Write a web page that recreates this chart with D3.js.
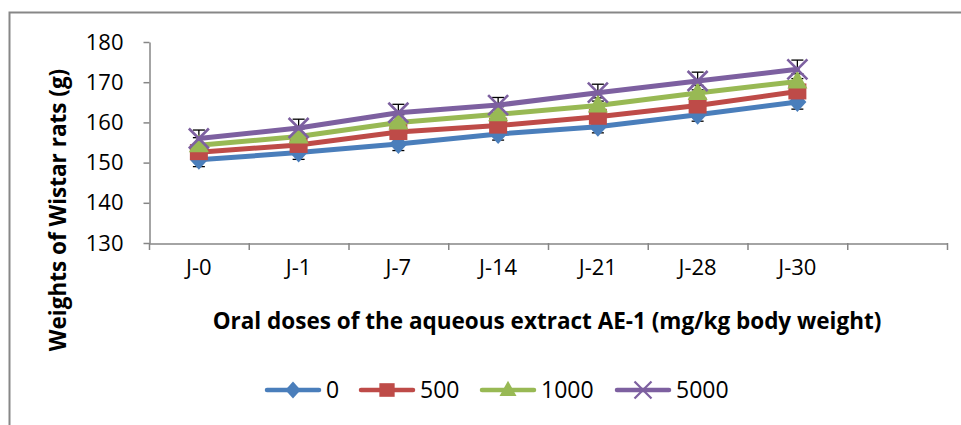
<!DOCTYPE html>
<html>
<head>
<meta charset="utf-8">
<script src="https://cdn.jsdelivr.net/npm/d3@7"></script>
<style>
  body { margin: 0; background: #fff; }
  svg text { font-family: "Open Sans", Lato, sans-serif; fill: #000; }
</style>
</head>
<body>
<div id="chart"></div>
<script>
// Datos del gráfico
const categories = ["J-0", "J-1", "J-7", "J-14", "J-21", "J-28", "J-30", ""];
const yTicks = [130, 140, 150, 160, 170, 180];
const seriesNames = ["0", "500", "1000", "5000"];
const values0 = [150.7, 152.5, 154.6, 157.1, 158.9, 161.9, 165.1];
const values500 = [152.6, 154.4, 157.6, 159.2, 161.4, 164.2, 167.7];
const values1000 = [154.3, 156.5, 160.0, 162.0, 164.2, 167.3, 170.2];
const values5000 = [156.0, 158.6, 162.4, 164.3, 167.4, 170.3, 173.2];
const err0 = [1.7, 1.7, 1.6, 1.5, 1.5, 1.6, 1.8];
const err500 = [1.8, 1.8, 1.8, 1.8, 1.8, 1.8, 1.8];
const err1000 = [1.9, 1.9, 1.9, 1.9, 1.9, 1.9, 1.9];
const err5000 = [2.1, 2.2, 2.1, 1.9, 2.1, 2.2, 2.3];

const width = 961, height = 425;
const svg = d3.select("#chart").append("svg")
    .attr("width", width).attr("height", height);

// Marco exterior
svg.append("rect")
    .attr("x", 9.5).attr("y", 12.5)
    .attr("width", 1000).attr("height", 500)
    .attr("fill", "none").attr("stroke", "#878787").attr("stroke-width", 2);

// Escalas
const x = d3.scaleBand().domain(categories).range([149, 947]).padding(0);
const y = d3.scaleLinear().domain([130, 180]).range([243, 42]);

const axisColor = "#868686";

// Eje Y
const yAxis = svg.append("g")
    .attr("transform", "translate(149.5,0)")
    .call(d3.axisLeft(y).tickValues(yTicks).tickSize(6).tickSizeOuter(0).tickPadding(20));
yAxis.select(".domain").attr("stroke", axisColor).attr("stroke-width", 1.5);
yAxis.selectAll(".tick line").attr("stroke", axisColor).attr("stroke-width", 1.5);
yAxis.selectAll(".tick text").attr("font-size", 22).attr("font-family", "Open Sans").attr("fill", "#000");

// Eje X
const xAxis = svg.append("g")
    .attr("transform", "translate(0,243.5)")
    .call(d3.axisBottom(x).tickSize(0).tickSizeOuter(0).tickPadding(16));
xAxis.select(".domain").attr("stroke", axisColor).attr("stroke-width", 1.5);
xAxis.selectAll(".tick text").attr("font-size", 22).attr("font-family", "Open Sans").attr("fill", "#000");
// marcas entre categorías
const bounds = categories.map(c => x(c)).concat([x.range()[1]]);
svg.append("g").selectAll("line").data(bounds).enter().append("line")
    .attr("x1", d => d + 0.5).attr("x2", d => d + 0.5)
    .attr("y1", 243).attr("y2", 250)
    .attr("stroke", axisColor).attr("stroke-width", 1.5);

// Títulos de ejes
svg.append("text")
    .attr("transform", "translate(66,210) rotate(-90)")
    .attr("text-anchor", "middle")
    .attr("font-size", 22.5).attr("font-weight", "bold")
    .text("Weights of Wistar rats (g)");

svg.append("text")
    .attr("x", 547).attr("y", 329)
    .attr("text-anchor", "middle")
    .attr("font-size", 22.5).attr("font-weight", "bold")
    .text("Oral doses of the aqueous extract AE-1 (mg/kg body weight)");

// Series
const series = [
    { name: seriesNames[0], values: values0, err: err0, color: "#4a7ebb", marker: "diamond" },
    { name: seriesNames[1], values: values500, err: err500, color: "#be4b48", marker: "square" },
    { name: seriesNames[2], values: values1000, err: err1000, color: "#98b954", marker: "triangle" },
    { name: seriesNames[3], values: values5000, err: err5000, color: "#7d60a0", marker: "x" }
];

const cx = i => x(categories[i]) + x.bandwidth() / 2;

// Barras de error (debajo de las líneas)
const errG = svg.append("g").attr("stroke", "#000").attr("stroke-width", 1.3);
series.forEach(s => {
    s.values.forEach((v, i) => {
        const xc = cx(i);
        errG.append("line").attr("x1", xc).attr("x2", xc)
            .attr("y1", y(v - s.err[i])).attr("y2", y(v + s.err[i]));
        [v - s.err[i], v + s.err[i]].forEach(e => {
            errG.append("line").attr("x1", xc - 6).attr("x2", xc + 6)
                .attr("y1", y(e)).attr("y2", y(e));
        });
    });
});

function drawMarker(g, type, color, px, py, k) {
    k = k || 1;
    if (type === "diamond") {
        g.append("path").attr("d", `M${px},${py - 10 * k}L${px + 9 * k},${py}L${px},${py + 10 * k}L${px - 9 * k},${py}Z`)
            .attr("fill", color);
    } else if (type === "square") {
        g.append("rect").attr("x", px - 9 * k).attr("y", py - 8 * k).attr("width", 18 * k).attr("height", 16 * k)
            .attr("fill", color);
    } else if (type === "triangle") {
        g.append("path").attr("d", `M${px},${py - 11 * k}L${px + 10 * k},${py + 7 * k}L${px - 10 * k},${py + 7 * k}Z`)
            .attr("fill", color);
    } else {
        const r = 10 * k;
        g.append("path").attr("d", `M${px - r},${py - r}L${px + r},${py + r}M${px + r},${py - r}L${px - r},${py + r}`)
            .attr("stroke", color).attr("stroke-width", 2.6 * k).attr("fill", "none");
    }
}

const line = d3.line().x((d, i) => cx(i)).y(d => y(d));
series.forEach(s => {
    const g = svg.append("g");
    g.append("path").datum(s.values)
        .attr("d", line)
        .attr("fill", "none").attr("stroke", s.color)
        .attr("stroke-width", 5).attr("stroke-linejoin", "round").attr("stroke-linecap", "round");
    s.values.forEach((v, i) => drawMarker(g, s.marker, s.color, cx(i), y(v)));
});

// Leyenda
const legendX = [267, 361, 482, 617];
const legendY = 390;
series.forEach((s, i) => {
    const g = svg.append("g");
    g.append("line").attr("x1", legendX[i]).attr("x2", legendX[i] + 52)
        .attr("y1", legendY).attr("y2", legendY)
        .attr("stroke", s.color).attr("stroke-width", 4.5).attr("stroke-linecap", "round");
    drawMarker(g, s.marker, s.color, legendX[i] + 26, legendY, 0.85);
    g.append("text").attr("x", legendX[i] + 59).attr("y", legendY + 8)
        .attr("font-size", 23).text(s.name);
});
</script>
</body>
</html>
